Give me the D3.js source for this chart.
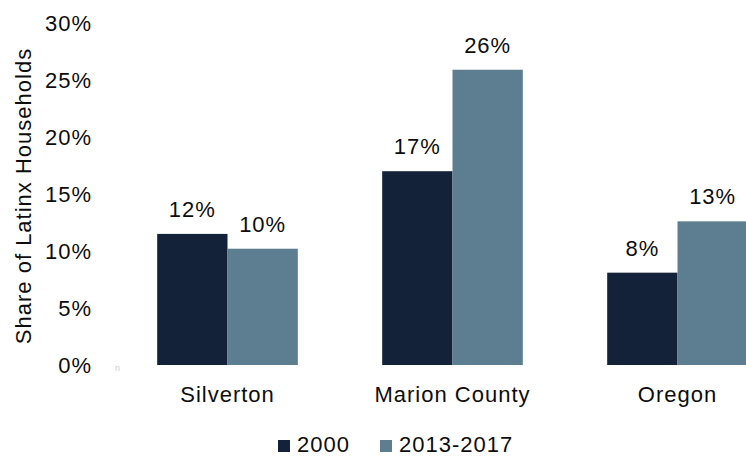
<!DOCTYPE html>
<html>
<head>
<meta charset="utf-8">
<script src="https://cdn.jsdelivr.net/npm/d3@7"></script>
<style>
  html, body { margin: 0; padding: 0; background: #fff; }
  svg { display: block; }
  text { font-family: "Liberation Sans", Arial, sans-serif; fill: #0d0d0d; letter-spacing: 1px; }
</style>
</head>
<body>
<svg id="chart" width="746" height="458"></svg>
<script>
// Share of Latinx households by place and period
const categories = ["Silverton", "Marion County", "Oregon"];
const seriesNames = ["2000", "2013-2017"];
const values2000 = [11.5, 17.0, 8.1];
const values2013 = [10.2, 25.9, 12.6];
const yTicks = [0, 5, 10, 15, 20, 25, 30];
const colors = ["#142239", "#5d7e90"];

const svg = d3.select("#chart");

const y = d3.scaleLinear().domain([0, 30]).range([365, 23]);
const x = d3.scaleBand().domain(categories).range([115, 790])
  .paddingInner(0.375).paddingOuter(0.1875);
const xs = d3.scaleBand().domain(seriesNames).range([0, x.bandwidth()]);
const color = d3.scaleOrdinal().domain(seriesNames).range(colors);

const rows = categories.map((c, i) => ({
  category: c,
  items: [
    { series: seriesNames[0], value: values2000[i] },
    { series: seriesNames[1], value: values2013[i] }
  ]
}));

// y axis labels (no line or tick marks)
const yAxis = d3.axisLeft(y).tickValues(yTicks).tickFormat(d => d + "%").tickSize(0).tickPadding(0);
const yg = svg.append("g").attr("transform", "translate(92,0)").call(yAxis);
yg.select(".domain").remove();
yg.selectAll("text").attr("font-size", 22).attr("font-family", null).attr("fill", "#0d0d0d").attr("dy", "0.35em");

// y axis title
svg.append("text")
  .attr("transform", "translate(31,196) rotate(-90)")
  .attr("text-anchor", "middle")
  .attr("font-size", 22)
  .text("Share of Latinx Households");

// bars
const groups = svg.append("g").selectAll("g").data(rows).join("g")
  .attr("transform", d => `translate(${x(d.category)},0)`);

groups.selectAll("rect").data(d => d.items).join("rect")
  .attr("x", d => xs(d.series))
  .attr("width", xs.bandwidth())
  .attr("y", d => y(d.value))
  .attr("height", d => y(0) - y(d.value))
  .attr("fill", d => color(d.series));

groups.selectAll("text.val").data(d => d.items).join("text")
  .attr("class", "val")
  .attr("x", d => xs(d.series) + xs.bandwidth() / 2)
  .attr("y", d => y(d.value) - 17)
  .attr("text-anchor", "middle")
  .attr("font-size", 22)
  .text(d => Math.round(d.value) + "%");

// category labels
const xAxis = d3.axisBottom(x).tickSize(0).tickPadding(0);
const xg = svg.append("g").attr("transform", "translate(0,386)").call(xAxis);
xg.select(".domain").remove();
xg.selectAll("text").attr("font-size", 22).attr("font-family", null).attr("fill", "#0d0d0d").attr("dy", "0.71em");

// small stray glyph near the origin
svg.append("text").attr("x", 118).attr("y", 371).attr("font-size", 9)
  .attr("text-anchor", "middle").style("fill", "#cfcfcf").text("n");

// legend
const legendItems = [
  { name: seriesNames[0], x: 278 },
  { name: seriesNames[1], x: 380 }
];
const lg = svg.append("g").selectAll("g").data(legendItems).join("g")
  .attr("transform", d => `translate(${d.x},0)`);
lg.append("rect").attr("x", 0).attr("y", 440).attr("width", 12).attr("height", 12)
  .attr("fill", d => color(d.name));
lg.append("text").attr("x", 19).attr("y", 452).attr("font-size", 22).text(d => d.name);
</script>
</body>
</html>
